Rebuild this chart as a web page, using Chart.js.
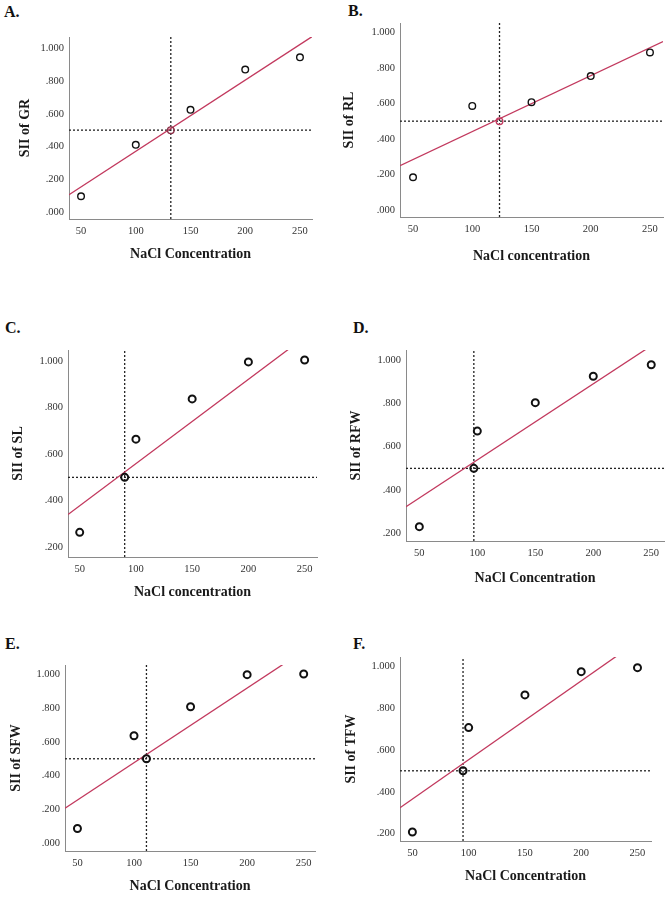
<!DOCTYPE html>
<html>
<head>
<meta charset="utf-8">
<script src="https://cdn.jsdelivr.net/npm/chart.js@4.4.1/dist/chart.umd.min.js"></script>
<style>
  body { margin: 0; background: #fff; }
  #page { position: relative; width: 672px; height: 898px; overflow: hidden; }
  #page canvas { position: absolute; }
  .lbl { position: absolute; font: bold 16px "Liberation Serif", "Times New Roman", serif; color: #111; line-height: 18px; }
</style>
</head>
<body>
<div id="page"></div>
<script>
// salt stress index vs NaCl concentration (mM)
const concentration = [50, 100, 150, 200, 250];
const siiGR  = [0.096, 0.410, 0.624, 0.870, 0.945];
const siiRL  = [0.184, 0.586, 0.607, 0.754, 0.887];
const siiSL  = [0.264, 0.664, 0.837, 0.996, 1.004];
const siiRFW = [0.231, 0.672, 0.803, 0.925, 0.978];
const siiSFW = [0.089, 0.636, 0.807, 0.996, 1.000];
const siiTFW = [0.208, 0.706, 0.862, 0.973, 0.992];

// linear fit for each trait and the concentration where SII = 0.5
const fitIntercept = [-0.064, 0.126, 0.197, 0.188, 0.037, 0.177];
const fitSlope     = [0.00435, 0.00315, 0.00362, 0.00351, 0.0044, 0.00376];
const halfX = [132, 123, 90, 97, 111, 95];
const halfY = 0.5;

const xTicks = [50, 100, 150, 200, 250];
const yTicksFrom0 = [0, 0.2, 0.4, 0.6, 0.8, 1.0];
const yTicksFrom2 = [0.2, 0.4, 0.6, 0.8, 1.0];

const panelNames = ['A.', 'B.', 'C.', 'D.', 'E.', 'F.'];
const yTitles = ['SII of GR', 'SII of RL', 'SII of SL', 'SII of RFW', 'SII of SFW', 'SII of TFW'];
const xTitles = ['NaCl Concentration', 'NaCl concentration', 'NaCl concentration',
                 'NaCl Concentration', 'NaCl Concentration', 'NaCl Concentration'];

const RED = '#c2395e';
const SERIF = '"Liberation Serif", "Times New Roman", serif';

// layout of each panel on the page
const panels = [
  { series: siiGR,  yTicks: yTicksFrom0, yMin: -0.043, yMax: 1.069, xMin: 39,   xMax: 261, box: { l: 69,  t: 37,  r: 312, b: 219 }, yTitleX: 25,  xTitleY: 255, lab: [4, 3],     halfColor: '#8c3048', pw: 1.4, pr: 3.3 },
  { series: siiRL,  yTicks: yTicksFrom0, yMin: -0.040, yMax: 1.053, xMin: 39,   xMax: 261, box: { l: 400, t: 23,  r: 663, b: 217 }, yTitleX: 349, xTitleY: 257, lab: [348, 2],   halfColor: RED,       pw: 1.4, pr: 3.3 },
  { series: siiSL,  yTicks: yTicksFrom2, yMin: 0.158,  yMax: 1.047, xMin: 39.6, xMax: 261, box: { l: 68,  t: 350, r: 317, b: 557 }, yTitleX: 18,  xTitleY: 593, lab: [5, 319],   halfColor: '#111',    pw: 2,   pr: 3.5 },
  { series: siiRFW, yTicks: yTicksFrom2, yMin: 0.165,  yMax: 1.046, xMin: 38.5, xMax: 261, box: { l: 406, t: 350, r: 664, b: 541 }, yTitleX: 356, xTitleY: 579, lab: [353, 319], halfColor: '#111',    pw: 2,   pr: 3.5 },
  { series: siiSFW, yTicks: yTicksFrom0, yMin: -0.044, yMax: 1.053, xMin: 39,   xMax: 260, box: { l: 65,  t: 665, r: 315, b: 851 }, yTitleX: 16,  xTitleY: 887, lab: [5, 635],   halfColor: '#111',    pw: 2,   pr: 3.5 },
  { series: siiTFW, yTicks: yTicksFrom2, yMin: 0.165,  yMax: 1.043, xMin: 39,   xMax: 262, box: { l: 400, t: 657, r: 651, b: 841 }, yTitleX: 351, xTitleY: 877, lab: [353, 635], halfColor: '#111',    pw: 2,   pr: 3.5 }
];

const page = document.getElementById('page');

panels.forEach((p, i) => {
  const cl = i % 2 ? 336 : 0;
  const ct = p.box.t - 15;
  const ch = Math.round(p.xTitleY + 10.4 - ct);

  const lbl = document.createElement('div');
  lbl.className = 'lbl';
  lbl.textContent = panelNames[i];
  lbl.style.left = p.lab[0] + 'px';
  lbl.style.top = p.lab[1] + 'px';
  page.appendChild(lbl);

  const canvas = document.createElement('canvas');
  canvas.width = 336;
  canvas.height = ch;
  canvas.style.left = cl + 'px';
  canvas.style.top = ct + 'px';
  canvas.style.width = '336px';
  canvas.style.height = ch + 'px';
  page.appendChild(canvas);

  const fit = x => fitIntercept[i] + fitSlope[i] * x;
  const tickFont = { family: SERIF, size: 10.5 };
  const titleFont = { family: SERIF, size: 14, weight: 'bold' };

  new Chart(canvas.getContext('2d'), {
    type: 'scatter',
    data: {
      datasets: [
        {
          data: concentration.map((x, k) => ({ x: x, y: p.series[k] })),
          pointRadius: p.pr,
          borderWidth: p.pw,
          borderColor: '#111',
          backgroundColor: 'rgba(0,0,0,0)'
        },
        {
          data: [{ x: halfX[i], y: halfY }],
          pointRadius: p.pr,
          borderWidth: p.pw,
          borderColor: p.halfColor,
          backgroundColor: 'rgba(0,0,0,0)'
        },
        {
          type: 'line',
          data: [p.xMin, p.xMax].map(x => ({ x: x, y: fit(x) })),
          borderColor: RED,
          borderWidth: 1.3,
          pointRadius: 0
        },
        {
          type: 'line',
          data: [{ x: p.xMin, y: halfY }, { x: p.xMax, y: halfY }],
          borderColor: '#222',
          borderWidth: 1.3,
          borderDash: [2, 2],
          pointRadius: 0
        },
        {
          type: 'line',
          data: [{ x: halfX[i], y: p.yMin }, { x: halfX[i], y: p.yMax }],
          borderColor: '#222',
          borderWidth: 1.3,
          borderDash: [2, 2],
          pointRadius: 0
        }
      ]
    },
    options: {
      responsive: false,
      animation: false,
      devicePixelRatio: 1,
      layout: { padding: { left: 0, top: 15, right: cl + 336 - p.box.r, bottom: 0 } },
      plugins: { legend: { display: false }, tooltip: { enabled: false } },
      scales: {
        x: {
          type: 'linear',
          min: p.xMin,
          max: p.xMax,
          grid: { display: false, drawTicks: false },
          border: { color: '#8a8a8a', width: 1 },
          ticks: { font: tickFont, color: '#333', padding: 6 },
          title: { display: true, text: xTitles[i], font: titleFont, color: '#1a1a1a', padding: { top: 0, bottom: 2 } },
          afterBuildTicks: s => { s.ticks = xTicks.map(v => ({ value: v })); },
          afterFit: s => {
            s.height = ct + ch - p.box.b;
            s.paddingLeft = 0;
            s.paddingRight = 0;
          }
        },
        y: {
          type: 'linear',
          min: p.yMin,
          max: p.yMax,
          grid: { display: false, drawTicks: false },
          border: { color: '#8a8a8a', width: 1 },
          ticks: {
            font: tickFont,
            color: '#333',
            padding: 5,
            callback: v => v.toFixed(3).replace(/^0/, '')
          },
          title: { display: true, text: yTitles[i], font: titleFont, color: '#1a1a1a', padding: { top: p.yTitleX - cl - 8.4, bottom: 0 } },
          afterBuildTicks: s => { s.ticks = p.yTicks.map(v => ({ value: v })); },
          afterFit: s => {
            s.width = p.box.l - cl;
            s.paddingTop = 0;
            s.paddingBottom = 0;
          }
        }
      }
    }
  });
});
</script>
</body>
</html>
